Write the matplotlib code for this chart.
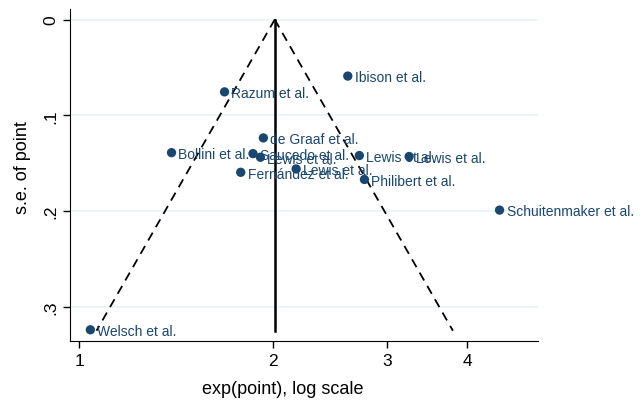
import numpy as np
import matplotlib
matplotlib.use("Agg")
from matplotlib import pyplot as plt
from matplotlib.ticker import FixedLocator, NullLocator

plt.rcParams['font.family'] = ['Liberation Sans', 'DejaVu Sans']

# study estimates (exp scale) and standard errors
studies = ["Ibison et al.", "Razum et al.", "de Graaf et al.", "Bollini et al.",
           "Saucedo et al.", "Lewis et al.", "Lewis et al.", "Fernández et al.",
           "Lewis et al.", "Lewis et al.", "Philibert et al.",
           "Schuitenmaker et al.", "Welsch et al."]
effect = [2.61, 1.68, 1.93, 1.39, 1.86, 1.91, 2.17, 1.78, 2.72, 3.25, 2.77, 4.49, 1.04]
se = [0.059, 0.0755, 0.1236, 0.139, 0.140, 0.1438, 0.156, 0.1595, 0.142, 0.143,
      0.167, 0.199, 0.324]

pooled = 2.01
se_max = 0.325

x_ticks = [1, 2, 3, 4]
y_ticks = [0, 0.1, 0.2, 0.3]
y_ticklabels = ["0", ".1", ".2", ".3"]

navy = "#1a476f"

fig = plt.figure(figsize=(6.44, 4.02), dpi=100)
ax = fig.add_axes([0.1087, 0.150, 0.7266, 0.825])

ax.set_xscale("log")

# funnel
se_line = np.array([0, se_max])
ax.plot([pooled, pooled], [0, se_max], color="black", lw=1.8, zorder=2)
ax.plot(np.exp(np.log(pooled) - 1.96 * se_line), se_line, color="black", lw=1.3,
        dashes=(5, 3.5), zorder=2)
ax.plot(np.exp(np.log(pooled) + 1.96 * se_line), se_line, color="black", lw=1.3,
        dashes=(5, 3.5), zorder=2)

ax.scatter(effect, se, s=45, color=navy, zorder=3, edgecolors="none")
for name, xv, yv in zip(studies, effect, se):
    ax.annotate(name, (xv, yv), xytext=(5, -1), textcoords="offset points",
                ha="left", va="center", fontsize=10, color=navy, zorder=4)

ax.set_xlim(0.967, 5.15)
ax.set_ylim(0.3354, -0.011)

ax.xaxis.set_major_locator(FixedLocator(x_ticks))
ax.xaxis.set_minor_locator(NullLocator())
ax.set_xticklabels([str(t) for t in x_ticks])
ax.set_yticks(y_ticks)
ax.set_yticklabels(y_ticklabels, rotation=90, va="center")
ax.tick_params(labelsize=12.5, length=5, width=1, colors="black")

ax.grid(axis="y", color="#eaf2f3", lw=1.2, zorder=0)
ax.set_axisbelow(True)
ax.spines["top"].set_visible(False)
ax.spines["right"].set_visible(False)

ax.set_xlabel("exp(point), log scale", fontsize=13)
ax.set_ylabel("s.e. of point", fontsize=13)
ax.xaxis.set_label_coords(0.455, -0.117)
ax.yaxis.set_label_coords(-0.084, 0.524)

fig.savefig("out.png", dpi=100)
